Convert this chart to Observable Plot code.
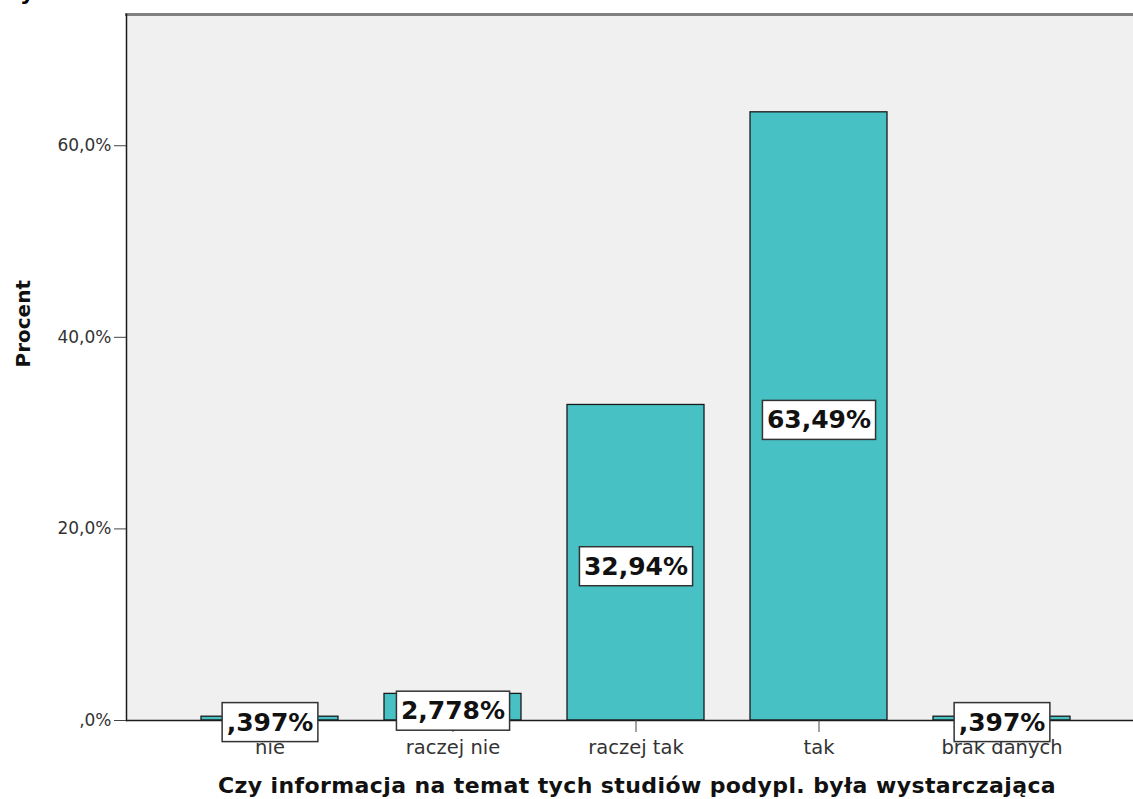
<!DOCTYPE html>
<html>
<head>
<meta charset="utf-8">
<script src="https://cdn.jsdelivr.net/npm/d3@7"></script>
<script src="https://cdn.jsdelivr.net/npm/@observablehq/plot@0.6"></script>
<style>
  html, body { margin: 0; padding: 0; background: #fff; }
  #wrap { position: relative; width: 1133px; height: 799px; overflow: hidden; }
  #frag { position: absolute; left: 20px; top: -20px; font: bold 22px "DejaVu Sans", sans-serif; }
  svg { font-family: "DejaVu Sans", sans-serif; }
</style>
</head>
<body>
<div id="wrap"><span id="frag">y</span></div>
<script>
const categories = ["nie", "raczej nie", "raczej tak", "tak", "brak danych"];
const percents = [0.397, 2.778, 32.94, 63.49, 0.397];
const valueLabels = [",397%", "2,778%", "32,94%", "63,49%", ",397%"];
const yTicks = [0, 20, 40, 60];
const yTickLabels = [",0%", "20,0%", "40,0%", "60,0%"];
const xTitle = "Czy informacja na temat tych studiów podypl. była wystarczająca";
const yTitle = "Procent";

const data = categories.map((c, i) => ({cat: c, pct: percents[i], label: valueLabels[i]}));

const chart = Plot.plot({
  width: 1133,
  height: 799,
  marginTop: 14,
  marginBottom: 79,
  marginLeft: 126,
  marginRight: 0,
  style: {fontFamily: "'DejaVu Sans', sans-serif", background: "#fff"},
  x: {type: "band", domain: categories, range: [178.5, 1093.5], paddingInner: 0.25, paddingOuter: 0.125},
  y: {domain: [0, 73.7]},
  marks: [
    Plot.frame({fill: "#f0f0f0", stroke: null}),
    Plot.frame({anchor: "top", stroke: "#808080", strokeWidth: 3}),
    Plot.barY(data, {x: "cat", y: "pct", fill: "#48c1c4", stroke: "#1a1a1a", strokeWidth: 1.3}),
    Plot.frame({anchor: "left", stroke: "#1a1a1a", strokeWidth: 1.5}),
    Plot.ruleY([0], {stroke: "#1a1a1a", strokeWidth: 1.5}),
    Plot.axisX({tickSize: 12, tickPadding: 8, tickFormat: d => d, fontSize: 19.5, fill: "#333", stroke: "#444", label: null}),
    Plot.axisY({ticks: yTicks, tickSize: 12, tickPadding: 3, tickFormat: d => yTickLabels[yTicks.indexOf(d)], fontSize: 17, fill: "#333", stroke: "#444", label: null}),
    Plot.text(data, {x: "cat", y: d => d.pct / 2, text: "label", dy: 4, fontSize: 25, fontWeight: "bold", fill: "#111", className: "vlabel"}),
    Plot.text([xTitle], {frameAnchor: "bottom", dx: 7, dy: 72, fontSize: 22, fontWeight: "bold", fill: "#111", lineAnchor: "bottom", className: "xtitle"}),
    Plot.text([yTitle], {frameAnchor: "left", dx: -103, rotate: -90, fontSize: 20, fontWeight: "bold", fill: "#111"})
  ]
});
document.getElementById("wrap").append(chart);

d3.select(chart).selectAll("g.xtitle text").style("letter-spacing", "0.4px");

// white boxes behind value labels
d3.select(chart).selectAll("g.vlabel text").each(function () {
  const b = this.getBBox();
  const cy = b.y + b.height / 2;
  const r = document.createElementNS("http://www.w3.org/2000/svg", "rect");
  r.setAttribute("x", b.x - 4.5);
  r.setAttribute("y", cy - 19.5);
  r.setAttribute("width", b.width + 9);
  r.setAttribute("height", 39);
  r.setAttribute("fill", "#fff");
  r.setAttribute("stroke", "#333");
  r.setAttribute("stroke-width", 1.5);
  const t = this.getAttribute("transform");
  if (t) r.setAttribute("transform", t);
  this.parentNode.insertBefore(r, this);
});
</script>
</body>
</html>
